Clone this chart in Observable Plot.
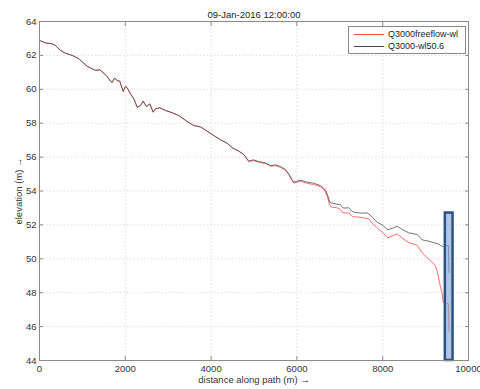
<!DOCTYPE html>
<html><head><meta charset="utf-8">
<script src="https://cdn.jsdelivr.net/npm/d3@7"></script>
<script src="https://cdn.jsdelivr.net/npm/@observablehq/plot@0.6"></script>
<style>
body{margin:0;background:#fff;}
#wrap{position:relative;width:480px;height:389px;font-family:"Liberation Sans",Arial,sans-serif;}
#legend{position:absolute;left:348px;top:26px;width:116px;height:26px;border:1px solid #8a8a8a;background:#fff;font-size:9px;color:#222;}
#legend .row{position:absolute;left:0;height:12px;width:116px;}
#legend .sw{position:absolute;left:5px;top:6px;width:30px;height:0;border-top:1px solid;}
#legend .lb{position:absolute;left:39px;top:0;line-height:12px;}
</style></head>
<body><div id="wrap"></div>
<script>
const title = "09-Jan-2016 12:00:00";
const xLabel = "distance along path (m) →";
const yLabel = "elevation (m) →";
const seriesNames = ["Q3000freeflow-wl", "Q3000-wl50.6"];
const seriesColors = ["#ff4848", "#444444"];
const xTicks = [0, 2000, 4000, 6000, 8000, 10000];
const yTicks = [44, 46, 48, 50, 52, 54, 56, 58, 60, 62, 64];

const distance = [0,140,296,373,490,606,762,917,994,1110,1228,1305,1406,1500,1578,1655,1694,1748,1811,1872,1904,1951,2005,2044,2121,2198,2277,2354,2417,2494,2571,2650,2704,2804,2937,3093,3247,3443,3597,3753,3908,4064,4219,4375,4491,4646,4763,4879,4980,5113,5268,5385,5501,5618,5734,5812,5874,5928,6006,6084,6240,6394,6550,6643,6706,6767,6823,6939,7016,7055,7094,7211,7289,7327,7483,7522,7638,7677,7755,7871,7988,8119,8245,8338,8455,8609,8804,8920,9075,9231,9284,9347,9387,9410,9464,9530,9545];
const wlFreeflow = [62.88,62.74,62.68,62.58,62.29,62.13,62.00,61.80,61.62,61.36,61.21,61.12,61.15,60.95,60.75,60.48,60.40,60.66,60.52,60.48,60.22,59.87,60.17,60.09,59.73,59.44,58.94,59.04,59.30,58.98,59.14,58.65,58.85,58.91,58.75,58.62,58.45,58.10,57.86,57.78,57.53,57.27,57.02,56.82,56.55,56.35,56.15,55.72,55.80,55.69,55.62,55.46,55.50,55.40,55.22,54.96,54.67,54.47,54.53,54.58,54.45,54.38,54.24,54.05,53.72,53.15,53.04,53.01,52.90,52.75,52.72,52.69,52.50,52.48,52.45,52.44,52.38,52.36,52.10,51.83,51.57,51.24,51.37,51.47,51.22,50.95,50.80,50.35,49.98,49.60,49.12,48.33,47.95,47.44,47.40,47.35,45.70];
const wl506 = [62.88,62.74,62.68,62.58,62.29,62.13,62.00,61.80,61.62,61.36,61.21,61.12,61.15,60.95,60.75,60.48,60.40,60.66,60.52,60.48,60.22,59.87,60.17,60.09,59.73,59.44,58.94,59.04,59.30,58.98,59.14,58.65,58.85,58.91,58.75,58.62,58.45,58.10,57.86,57.78,57.53,57.27,57.02,56.82,56.55,56.35,56.15,55.76,55.84,55.74,55.66,55.50,55.54,55.44,55.27,55.01,54.72,54.52,54.58,54.64,54.52,54.46,54.32,54.13,53.83,53.34,53.28,53.22,53.20,53.05,52.99,53.01,52.80,52.75,52.70,52.69,52.71,52.65,52.45,52.16,52.00,51.71,51.82,51.92,51.73,51.53,51.43,51.12,51.04,50.92,50.88,50.80,50.73,50.74,50.78,50.80,49.20];
const boxX = [9460, 9640];
const boxY = [44, 52.7];

const rows = distance.map((d, i) => ({d, free: wlFreeflow[i], w: wl506[i]}));
const box = [{x1: boxX[0], x2: boxX[1], y1: boxY[0], y2: boxY[1]}];

const plot = Plot.plot({
  width: 480, height: 389,
  marginLeft: 39, marginRight: 12, marginTop: 21, marginBottom: 29,
  style: {fontFamily: "'Liberation Sans', Arial, sans-serif", fontSize: "9.5px", color: "#333", background: "#fff", overflow: "visible"},
  x: {domain: [0, 10000]},
  y: {domain: [44, 64]},
  marks: [
    Plot.gridX(xTicks, {stroke: "#dedede", strokeOpacity: 1, strokeDasharray: "1.5,2"}),
    Plot.gridY(yTicks, {stroke: "#dedede", strokeOpacity: 1, strokeDasharray: "1.5,2"}),
    Plot.line(rows, {x: "d", y: "free", stroke: seriesColors[0], strokeWidth: 0.8}),
    Plot.line(rows, {x: "d", y: "w", stroke: seriesColors[1], strokeWidth: 0.75}),
    Plot.rect(box, {x1: "x1", x2: "x2", y1: "y1", y2: "y2", fill: "#7ea3d4", fillOpacity: 0.62, stroke: "#2c5182", strokeWidth: 2.5}),
    Plot.frame({stroke: "#8a8a8a"}),
    Plot.axisX(xTicks, {anchor: "bottom", tickSize: -4, tickPadding: 9, tickFormat: d3.format("d"), label: xLabel, labelAnchor: "center", labelOffset: 22, labelArrow: "none", stroke: "#8a8a8a"}),
    Plot.axisX(xTicks, {anchor: "top", tickSize: -4, tickFormat: () => "", label: null, stroke: "#8a8a8a"}),
    Plot.axisY(yTicks, {anchor: "left", tickSize: -4, tickPadding: 7, label: yLabel, labelAnchor: "center", labelOffset: 24, labelArrow: "none", stroke: "#8a8a8a"}),
    Plot.axisY(yTicks, {anchor: "right", tickSize: -4, tickFormat: () => "", label: null, stroke: "#8a8a8a"}),
    Plot.text([title], {frameAnchor: "top", dy: -10, fill: "#222", fontSize: 9.5})
  ]
});
const wrap = document.getElementById("wrap");
wrap.appendChild(plot);
const lg = document.createElement("div");
lg.id = "legend";
seriesNames.forEach((n, i) => {
  const r = document.createElement("div");
  r.className = "row";
  r.style.top = (1 + i * 12) + "px";
  r.innerHTML = `<span class="sw" style="border-color:${seriesColors[i]}"></span><span class="lb">${n}</span>`;
  lg.appendChild(r);
});
wrap.appendChild(lg);
</script>
</body></html>
